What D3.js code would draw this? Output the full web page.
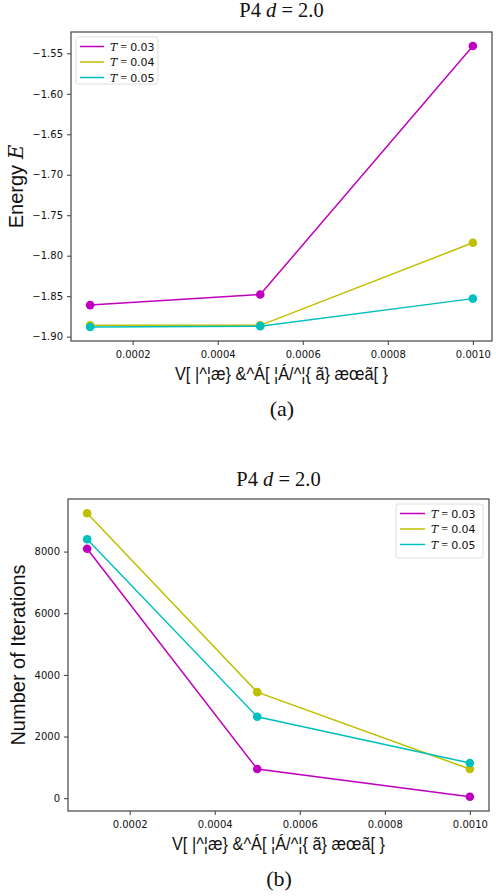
<!DOCTYPE html>
<html><head><meta charset="utf-8">
<script src="https://cdn.jsdelivr.net/npm/d3@7"></script>
<style>body{margin:0;background:#fff}svg{display:block}</style>
</head><body>
<script>
const tolerances = [0.0001, 0.0005, 0.001];
const seriesNames = ["0.03", "0.04", "0.05"];
const seriesColors = ["#bf00bf", "#bfbf00", "#00bfbf"];
const energyT003 = [-1.861, -1.848, -1.541];
const energyT004 = [-1.886, -1.886, -1.784];
const energyT005 = [-1.888, -1.887, -1.853];
const iterT003 = [8090, 945, 45];
const iterT004 = [9245, 3440, 945];
const iterT005 = [8400, 2640, 1140];
const xTicks = [0.0002, 0.0004, 0.0006, 0.0008, 0.0010];
const energyTicks = [-1.90, -1.85, -1.80, -1.75, -1.70, -1.65, -1.60, -1.55];
const iterTicks = [0, 2000, 4000, 6000, 8000];
const xLabel = "V[ |^¦æ} &^Á[ ¦Á/^¦{ ã} æœã[ }";

const W = 496, H = 896;
const svg = d3.select("body").append("svg").attr("width", W).attr("height", H);

function pad(ext){const r=ext[1]-ext[0];return [ext[0]-0.05*r, ext[1]+0.05*r];}

function panel(o){
  const g = svg.append("g");
  const x = d3.scaleLinear().domain(pad(d3.extent(tolerances))).range([o.left, o.right]);
  const all = o.series.flat();
  const y = d3.scaleLinear().domain(pad(d3.extent(all))).range([o.bottom, o.top]);
  const xa = g.append("g").attr("transform", `translate(0,${o.bottom})`)
    .call(d3.axisBottom(x).tickValues(xTicks).tickFormat(d3.format(".4f")).tickSizeOuter(0).tickSize(4));
  const ya = g.append("g").attr("transform", `translate(${o.left},0)`)
    .call(d3.axisLeft(y).tickValues(o.yTicks).tickFormat(o.yFmt).tickSizeOuter(0).tickSize(4));
  [xa, ya].forEach(a => {
    a.select(".domain").remove();
    a.selectAll("line").attr("stroke", "#222").attr("stroke-width", 0.9);
    a.selectAll("text").attr("font-family", "DejaVu Sans").attr("font-size", 10).attr("fill", "#111");
  });
  xa.selectAll("text").attr("dy", "0.95em");
  ya.selectAll("text").attr("dx", "-0.1em");
  g.append("rect").attr("x", o.left).attr("y", o.top).attr("width", o.right - o.left)
    .attr("height", o.bottom - o.top).attr("fill", "none").attr("stroke", "#444").attr("stroke-width", 1.2);
  const line = d3.line().x((d, i) => x(tolerances[i])).y(d => y(d));
  o.series.forEach((s, k) => {
    g.append("path").datum(s).attr("d", line).attr("fill", "none")
      .attr("stroke", seriesColors[k]).attr("stroke-width", 1.5);
    g.selectAll(null).data(s).enter().append("circle")
      .attr("cx", (d, i) => x(tolerances[i])).attr("cy", d => y(d)).attr("r", 4.3)
      .attr("fill", seriesColors[k]);
  });
  const cx = (o.left + o.right) / 2;
  const t = g.append("text").attr("x", cx).attr("y", o.titleY).attr("text-anchor", "middle")
    .attr("font-family", "Liberation Serif").attr("font-size", 20.5).attr("fill", "#111");
  t.append("tspan").text("P4 ");
  t.append("tspan").attr("font-style", "italic").text("d");
  t.append("tspan").text(" = 2.0");
  g.append("text").attr("x", cx).attr("y", o.xLabelY).attr("text-anchor", "middle")
    .attr("font-family", "Liberation Sans").attr("font-size", 19).attr("fill", "#111")
    .attr("textLength", 213).attr("lengthAdjust", "spacingAndGlyphs").text(xLabel);
  const yl = g.append("text").attr("transform", `translate(${o.yLabelX},${(o.top + o.bottom) / 2}) rotate(-90)`)
    .attr("text-anchor", "middle").attr("font-family", "Liberation Sans").attr("font-size", 20).attr("fill", "#111");
  o.yLabel(yl);
  g.append("text").attr("x", o.capX).attr("y", o.capY).attr("text-anchor", "middle")
    .attr("font-family", "Liberation Serif").attr("font-size", 22).attr("fill", "#111").text(o.caption);
  const L = o.legend;
  g.append("rect").attr("x", L.x).attr("y", L.y).attr("width", L.w).attr("height", L.h).attr("rx", 2.5)
    .attr("fill", "#fff").attr("fill-opacity", 0.8).attr("stroke", "#ddd").attr("stroke-width", 1);
  seriesNames.forEach((n, k) => {
    const yy = L.y + 9.5 + k * 15.5;
    g.append("line").attr("x1", L.x + 4).attr("x2", L.x + 4 + L.lw).attr("y1", yy).attr("y2", yy)
      .attr("stroke", seriesColors[k]).attr("stroke-width", 1.5);
    const tx = g.append("text").attr("x", L.x + L.lw + 10).attr("y", yy + 4).attr("fill", "#111")
      .attr("font-size", 11);
    tx.append("tspan").attr("font-family", "DejaVu Serif").attr("font-style", "italic").text("T");
    tx.append("tspan").attr("font-family", "Liberation Serif").attr("font-size", 12).text(" = ");
    tx.append("tspan").attr("font-family", "DejaVu Sans").text(n);
  });
}

panel({
  left: 71, right: 492, top: 32, bottom: 341,
  series: [energyT003, energyT004, energyT005],
  yTicks: energyTicks, yFmt: d => d3.format(".2f")(d).replace("-", "\u2212"),
  titleY: 16.5, xLabelY: 380, yLabelX: 23, capX: 282, capY: 416, caption: "(a)",
  yLabel: t => { t.append("tspan").text("Energy "); t.append("tspan").attr("font-family", "DejaVu Serif").attr("font-style", "italic").text("E"); },
  legend: {x: 76, y: 37, w: 82, h: 47, lw: 24}
});

panel({
  left: 68, right: 489, top: 499, bottom: 811,
  series: [iterT003, iterT004, iterT005],
  yTicks: iterTicks, yFmt: d3.format("d"),
  titleY: 486, xLabelY: 850, yLabelX: 25, capX: 279, capY: 886, caption: "(b)",
  yLabel: t => t.text("Number of Iterations"),
  legend: {x: 396, y: 504, w: 87, h: 54, lw: 25}
});
</script>
</body></html>
